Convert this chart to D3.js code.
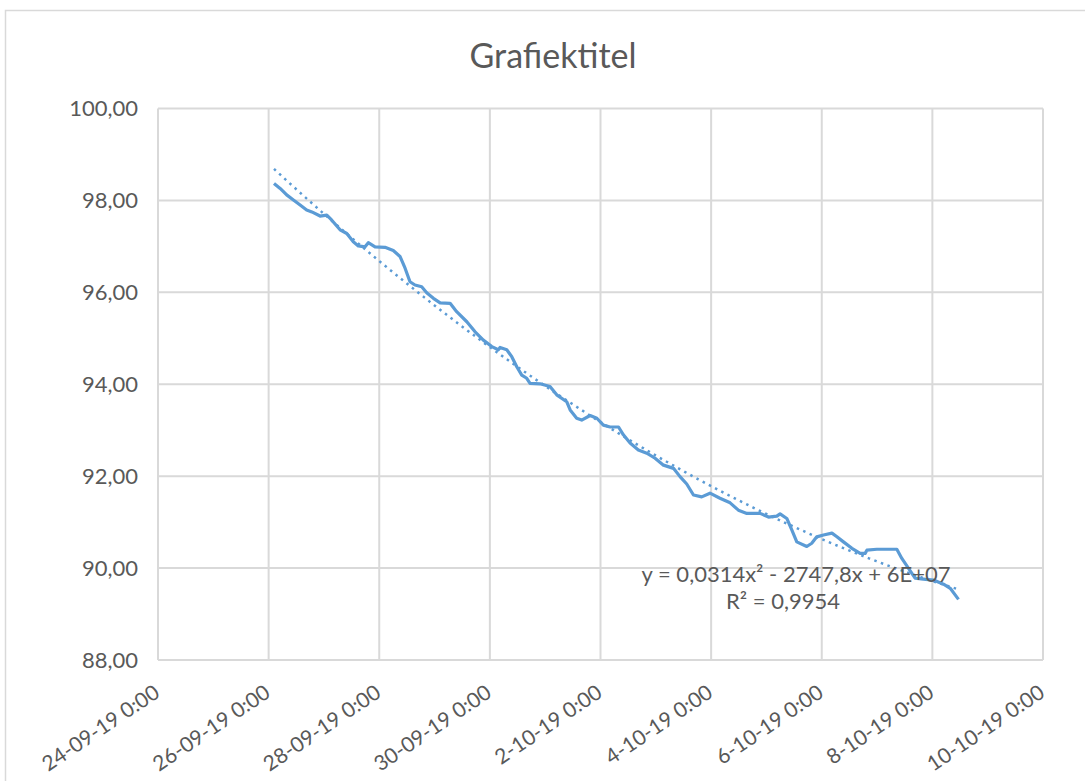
<!DOCTYPE html>
<html>
<head>
<meta charset="utf-8">
<script src="https://cdn.jsdelivr.net/npm/d3@7"></script>
<style>
  body { margin: 0; background: #fff; }
  text { font-family: Lato, "Open Sans", sans-serif; fill: #595959; }
</style>
</head>
<body>
<div id="chart"></div>
<script>
var times = [
  "26-09-2019 02:20", "26-09-2019 05:00", "26-09-2019 07:50", "26-09-2019 10:45",
  "26-09-2019 13:40", "26-09-2019 16:30", "26-09-2019 18:45", "26-09-2019 22:20",
  "27-09-2019 01:15", "27-09-2019 03:25", "27-09-2019 07:00", "27-09-2019 09:55",
  "27-09-2019 12:45", "27-09-2019 14:55", "27-09-2019 17:50", "27-09-2019 19:15",
  "27-09-2019 22:10", "28-09-2019 02:30", "28-09-2019 06:05", "28-09-2019 09:00",
  "28-09-2019 11:10", "28-09-2019 13:20", "28-09-2019 15:30", "28-09-2019 18:25",
  "28-09-2019 20:35", "28-09-2019 23:30", "29-09-2019 02:25", "29-09-2019 06:45",
  "29-09-2019 09:35", "29-09-2019 14:00", "29-09-2019 17:35", "29-09-2019 21:10",
  "30-09-2019 00:50", "30-09-2019 03:40", "30-09-2019 04:25", "30-09-2019 07:20",
  "30-09-2019 09:30", "30-09-2019 11:40", "30-09-2019 13:50", "30-09-2019 16:00",
  "30-09-2019 17:25", "30-09-2019 21:45", "01-10-2019 02:05", "01-10-2019 05:00",
  "01-10-2019 09:20", "01-10-2019 10:50", "01-10-2019 13:40", "01-10-2019 15:50",
  "01-10-2019 19:30", "01-10-2019 22:25", "02-10-2019 01:15", "02-10-2019 04:10",
  "02-10-2019 07:50", "02-10-2019 09:55", "02-10-2019 12:50", "02-10-2019 16:25",
  "02-10-2019 20:05", "02-10-2019 23:40", "03-10-2019 03:20", "03-10-2019 07:40",
  "03-10-2019 10:30", "03-10-2019 13:25", "03-10-2019 16:20", "03-10-2019 19:55",
  "03-10-2019 23:30", "04-10-2019 03:50", "04-10-2019 08:15", "04-10-2019 11:50",
  "04-10-2019 15:30", "04-10-2019 21:15", "05-10-2019 00:55", "05-10-2019 04:30",
  "05-10-2019 05:55", "05-10-2019 08:50", "05-10-2019 11:00", "05-10-2019 13:10",
  "05-10-2019 17:30", "05-10-2019 19:40", "05-10-2019 21:50", "06-10-2019 00:45",
  "06-10-2019 04:25", "06-10-2019 06:35", "06-10-2019 09:25", "06-10-2019 13:05",
  "06-10-2019 16:40", "06-10-2019 18:50", "06-10-2019 19:35", "06-10-2019 23:55",
  "07-10-2019 08:35", "07-10-2019 10:45", "07-10-2019 13:35", "07-10-2019 16:30",
  "07-10-2019 20:05", "08-10-2019 00:30", "08-10-2019 04:50", "08-10-2019 07:45",
  "08-10-2019 11:20"
];
var values = [
  98.37, 98.26, 98.12, 98.01,
  97.90, 97.79, 97.75, 97.66,
  97.68, 97.57, 97.36, 97.28,
  97.10, 97.01, 96.99, 97.08,
  96.99, 96.98, 96.91, 96.78,
  96.53, 96.23, 96.16, 96.12,
  95.99, 95.87, 95.77, 95.76,
  95.58, 95.36, 95.14, 94.96,
  94.82, 94.75, 94.80, 94.75,
  94.60, 94.38, 94.20, 94.13,
  94.02, 94.01, 93.95, 93.77,
  93.62, 93.44, 93.26, 93.22,
  93.32, 93.26, 93.11, 93.07,
  93.07, 92.90, 92.72, 92.57,
  92.50, 92.39, 92.24, 92.17,
  91.99, 91.83, 91.59, 91.55,
  91.63, 91.52, 91.42, 91.26,
  91.19, 91.19, 91.11, 91.13,
  91.18, 91.08, 90.83, 90.57,
  90.47, 90.54, 90.68, 90.72,
  90.76, 90.68, 90.57, 90.43,
  90.32, 90.32, 90.39, 90.41,
  90.41, 90.21, 90.00, 89.78,
  89.76, 89.74, 89.65, 89.56,
  89.32
];
var xTicks = ["24-09-2019", "26-09-2019", "28-09-2019", "30-09-2019", "02-10-2019",
              "04-10-2019", "06-10-2019", "08-10-2019", "10-10-2019"];
var yTicks = [88, 90, 92, 94, 96, 98, 100];
var title = "Grafiektitel";
var equation = ["y = 0,0314x\u00b2 - 2747,8x + 6E+07", "R\u00b2 = 0,9954"];

var W = 1085, H = 781;
var margin = {top: 108.5, right: 42, bottom: 121, left: 158};
var width = W - margin.left - margin.right,
    height = H - margin.top - margin.bottom;

var parseTime = d3.timeParse("%d-%m-%Y %H:%M"),
    parseDay = d3.timeParse("%d-%m-%Y"),
    fmt = d3.timeFormat("%-d-%m-%y %-H:%M"),
    comma = function(v) { return d3.format(".2f")(v).replace(".", ","); };

var data = times.map(function(t, i) { return {t: parseTime(t), v: values[i]}; });
var tickDates = xTicks.map(parseDay);

var svg = d3.select("#chart").append("svg")
  .attr("width", W)
  .attr("height", H);

// chart area border
svg.append("rect")
  .attr("x", 5.5).attr("y", 10.5)
  .attr("width", W + 10).attr("height", H + 10)
  .attr("fill", "#fff")
  .attr("stroke", "#d9d9d9")
  .attr("stroke-width", 1.5);

svg.append("text")
  .attr("x", 553).attr("y", 68)
  .attr("text-anchor", "middle")
  .style("font-size", "34px")
  .text(title);

var g = svg.append("g")
  .attr("transform", "translate(" + margin.left + "," + margin.top + ")");

var x = d3.scaleTime().domain([tickDates[0], tickDates[tickDates.length - 1]]).range([0, width]),
    y = d3.scaleLinear().domain([88, 100]).range([height, 0]);

// gridlines
g.append("g").selectAll("line")
  .data(yTicks)
  .enter().append("line")
  .attr("x1", 0).attr("x2", width)
  .attr("y1", function(d) { return y(d); })
  .attr("y2", function(d) { return y(d); })
  .attr("stroke", "#d9d9d9")
  .attr("stroke-width", 2);

g.append("g").selectAll("line")
  .data(tickDates)
  .enter().append("line")
  .attr("x1", function(d) { return x(d); })
  .attr("x2", function(d) { return x(d); })
  .attr("y1", 0).attr("y2", height)
  .attr("stroke", "#d9d9d9")
  .attr("stroke-width", 2);

// y labels
g.append("g").selectAll("text")
  .data(yTicks)
  .enter().append("text")
  .attr("x", -20)
  .attr("y", function(d) { return y(d) + 7.5; })
  .attr("text-anchor", "end")
  .style("font-size", "22px")
  .text(comma);

// x labels, rotated
g.append("g").selectAll("text")
  .data(tickDates)
  .enter().append("text")
  .attr("text-anchor", "end")
  .attr("transform", function(d) { return "translate(" + (x(d) + 3) + "," + (height + 36) + ") rotate(-34)"; })
  .style("font-size", "21px")
  .text(fmt);

// quadratic trendline (least squares, t in days)
var t0 = tickDates[0];
var pts = data.map(function(d) { return [(d.t - t0) / 864e5, d.v]; });
var S = [[0,0,0],[0,0,0],[0,0,0]], B = [0,0,0];
pts.forEach(function(p) {
  var f = [1, p[0], p[0] * p[0]];
  for (var i = 0; i < 3; i++) {
    B[i] += f[i] * p[1];
    for (var j = 0; j < 3; j++) S[i][j] += f[i] * f[j];
  }
});
function solve(A, b) {
  var n = b.length, M = A.map(function(r, i) { return r.concat([b[i]]); });
  for (var c = 0; c < n; c++) {
    for (var r = c + 1; r < n; r++) {
      var k = M[r][c] / M[c][c];
      for (var j = c; j <= n; j++) M[r][j] -= k * M[c][j];
    }
  }
  var s = new Array(n);
  for (var i = n - 1; i >= 0; i--) {
    var sum = M[i][n];
    for (var j = i + 1; j < n; j++) sum -= M[i][j] * s[j];
    s[i] = sum / M[i][i];
  }
  return s;
}
var coef = solve(S, B);
var tA = pts[0][0], tB = pts[pts.length - 1][0];
var trend = d3.range(0, 101).map(function(i) {
  var t = tA + (tB - tA) * i / 100;
  return {t: new Date(+t0 + t * 864e5), v: coef[0] + coef[1] * t + coef[2] * t * t};
});

var line = d3.line()
  .x(function(d) { return x(d.t); })
  .y(function(d) { return y(d.v); });

g.append("path")
  .datum(trend)
  .attr("d", line)
  .attr("fill", "none")
  .attr("stroke", "#5b9bd5")
  .attr("stroke-width", 2.5)
  .attr("stroke-dasharray", "2.5,4.5");

g.append("path")
  .datum(data)
  .attr("d", line)
  .attr("fill", "none")
  .attr("stroke", "#5b9bd5")
  .attr("stroke-width", 3.2)
  .attr("stroke-linejoin", "round");

// trendline label
svg.append("g").selectAll("text")
  .data(equation)
  .enter().append("text")
  .attr("x", function(d, i) { return i ? 783 : 796; })
  .attr("y", function(d, i) { return 582 + i * 27; })
  .attr("text-anchor", "middle")
  .style("font-size", "22px")
  .text(function(d) { return d; });
</script>
</body>
</html>
